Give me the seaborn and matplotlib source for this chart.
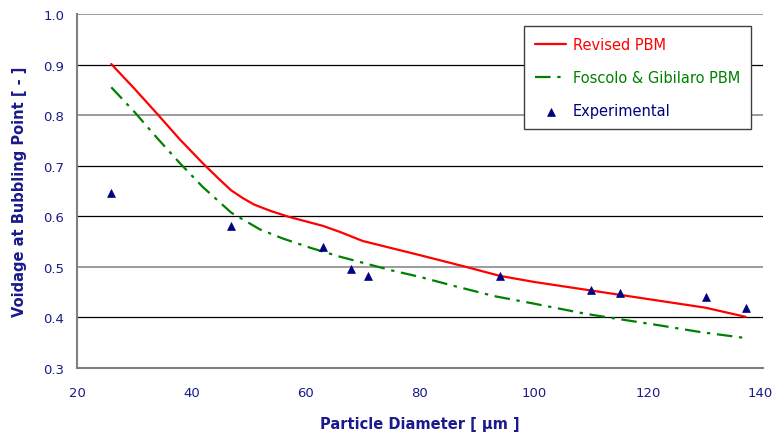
import matplotlib
matplotlib.use("Agg")
import matplotlib.pyplot as plt
import matplotlib.transforms as mtransforms
import seaborn as sns
import pandas as pd

# Data
revised_x = [26, 30, 34, 38, 42, 45, 47, 49, 51, 54, 57, 60, 63, 66, 70, 80, 88, 94, 100, 110, 120, 130, 137]
revised_y = [0.901, 0.853, 0.803, 0.752, 0.705, 0.672, 0.651, 0.636, 0.623, 0.610, 0.599, 0.590, 0.581, 0.569, 0.551, 0.523, 0.500, 0.482, 0.470, 0.453, 0.436, 0.419, 0.401]
foscolo_x = [26, 30, 34, 38, 42, 47, 52, 56, 61, 66, 70, 75, 80, 86, 93, 100, 109, 114, 122, 129, 137]
foscolo_y = [0.855, 0.807, 0.755, 0.705, 0.658, 0.607, 0.574, 0.556, 0.537, 0.520, 0.508, 0.493, 0.480, 0.462, 0.442, 0.427, 0.407, 0.398, 0.384, 0.371, 0.359]
exp_x = [26, 47, 63, 68, 71, 94, 110, 115, 130, 137]
exp_y = [0.645, 0.581, 0.539, 0.495, 0.482, 0.481, 0.454, 0.449, 0.441, 0.418]

x_ticks = [20, 40, 60, 80, 100, 120, 140]
y_ticks = [0.3, 0.4, 0.5, 0.6, 0.7, 0.8, 0.9, 1.0]

sns.set_style("white")
plt.rcParams['font.family'] = ['DejaVu Sans']

navy = "#1a1a8c"
fig = plt.figure(figsize=(7.72, 4.35), dpi=100)
ax = fig.add_axes([0.0997, 0.152, 0.8883, 0.8135])

df_r = pd.DataFrame({"x": revised_x, "y": revised_y})
df_f = pd.DataFrame({"x": foscolo_x, "y": foscolo_y})
df_e = pd.DataFrame({"x": exp_x, "y": exp_y})

for yv in y_ticks[1:]:
    if round(yv, 1) in (0.5, 0.8, 1.0):
        ax.axhline(yv, color="#8a8a8a", lw=1.2, zorder=0)
    else:
        ax.axhline(yv, color="black", lw=0.9, zorder=0)

sns.lineplot(data=df_r, x="x", y="y", ax=ax, color="#ff0000", lw=1.6, label="Revised PBM", sort=False)
sns.lineplot(data=df_f, x="x", y="y", ax=ax, color="#008000", lw=1.6, label="Foscolo & Gibilaro PBM", sort=False)
ax.lines[-1].set_dashes([7, 3, 1.5, 3])
sns.scatterplot(data=df_e, x="x", y="y", ax=ax, marker="^", color="#000080", s=32, edgecolor="#000080", linewidth=0.5, label="Experimental", zorder=5)

ax.set_xlim(20, 140)
ax.set_ylim(0.3, 1.0)
ax.set_xticks(x_ticks)
ax.set_yticks(y_ticks)
ax.set_yticklabels([f"{v:.1f}" for v in y_ticks])
ax.tick_params(axis="both", colors="#808080", labelcolor=navy, labelsize=9.5, length=4, width=1.2, direction="out")
ax.tick_params(axis="x", pad=9)
ax.tick_params(axis="y", pad=5)
for s in ["top", "right"]:
    ax.spines[s].set_visible(False)
for s in ["left", "bottom"]:
    ax.spines[s].set_color("#808080")
    ax.spines[s].set_linewidth(1.5)

# nudge the last x tick label so it stays inside the figure
last = ax.get_xticklabels()[-1]
last.set_transform(last.get_transform() + mtransforms.ScaledTranslation(-3 / 100, 0, fig.dpi_scale_trans))

ax.set_xlabel("Particle Diameter [ µm ]", color=navy, fontsize=10.5, fontweight="bold", labelpad=12)
ax.set_ylabel("Voidage at Bubbling Point [ - ]", color=navy, fontsize=10.5, fontweight="bold", labelpad=12)

leg = ax.legend(loc="upper right", bbox_to_anchor=(0.9825, 0.966), borderaxespad=0, frameon=True, fancybox=False,
                edgecolor="#404040", fontsize=10.5, borderpad=0.75, labelspacing=1.25, handlelength=2.1,
                handletextpad=0.45, framealpha=1)
leg.get_frame().set_linewidth(1.0)
for t, c in zip(leg.get_texts(), ["#ff0000", "#008000", "#000080"]):
    t.set_color(c)

fig.savefig("out.png", dpi=100)
